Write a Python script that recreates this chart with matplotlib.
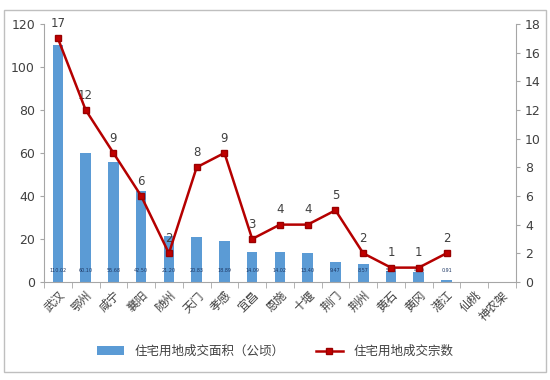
import matplotlib
matplotlib.use("Agg")
import matplotlib.pyplot as plt
import numpy as np

plt.rcParams['font.family'] = ['Noto Sans CJK SC', 'DejaVu Sans']

cities = ['武汉', '鄂州', '咸宁', '襄阳', '随州', '天门', '孝感', '宜昌', '恩施',
          '十堰', '荆门', '荆州', '黄石', '黄冈', '潜江', '仙桃', '神农架']
area = [110.02, 60.10, 55.68, 42.50, 21.20, 20.83, 18.89, 14.09, 14.02,
        13.40, 9.47, 8.57, 5.20, 4.40, 0.91, None, None]
deals = [17, 12, 9, 6, 2, 8, 9, 3, 4, 4, 5, 2, 1, 1, 2, None, None]
area_labels = ['110.02', '60.10', '55.68', '42.50', '21.20', '20.83', '18.89', '14.09',
               '14.02', '13.40', '9.47', '8.57', '5.20', '4.40', '0.91', '', '']

fig = plt.figure(figsize=(5.5, 3.8), dpi=100)
fig.patches.append(plt.Rectangle((0.008, 0.02), 0.985, 0.955, transform=fig.transFigure,
                                 fill=False, edgecolor='#BFBFBF', linewidth=1.0))
ax = fig.add_axes([0.08, 0.258, 0.858, 0.679])
ax2 = ax.twinx()

x = np.arange(len(cities))
bar_vals = [v if v is not None else 0 for v in area]
bars = ax.bar(x, bar_vals, width=0.38, color='#5B9BD5', zorder=2,
              label='住宅用地成交面积（公顷）')
for xi, lab in zip(x, area_labels):
    if lab:
        ax.text(xi, 5.5, lab, ha='center', va='center', fontsize=3.5, color='#1F3864',
                family='DejaVu Sans', zorder=3)

ax.set_xlim(-0.5, len(cities) - 0.5)
ax.set_ylim(0, 120)
ax.set_yticks(np.arange(0, 121, 20))
ax2.set_ylim(0, 18)
ax2.set_yticks(np.arange(0, 19, 2))

lx = [xi for xi, d in zip(x, deals) if d is not None]
ly = [d for d in deals if d is not None]
line, = ax2.plot(lx, ly, color='#B50000', linewidth=1.8, marker='s', markersize=5,
                 markerfacecolor='#C00000', markeredgecolor='#9A0000', zorder=4,
                 label='住宅用地成交宗数')
for xi, d in zip(lx, ly):
    ax2.annotate(str(d), (xi, d), textcoords='offset points', xytext=(0, 6),
                 ha='center', va='bottom', fontsize=8.5, color='#404040',
                 family='DejaVu Sans')

for a in (ax, ax2):
    a.spines['top'].set_visible(False)
    a.tick_params(axis='y', labelsize=9, colors='#404040', length=3, color='#A6A6A6')
    for t in a.get_yticklabels():
        t.set_family('DejaVu Sans')
ax2.spines['left'].set_visible(False)
ax.spines['right'].set_visible(False)
ax2.spines['right'].set_color('#A6A6A6')
ax.spines['left'].set_color('#A6A6A6')
ax.spines['bottom'].set_color('#A6A6A6')
ax2.spines['bottom'].set_visible(False)

ax.set_xticks(x)
ax.set_xticklabels(cities, rotation=45, ha='right', rotation_mode='anchor',
                   fontsize=8.5, color='#404040')
ax.tick_params(axis='x', length=0, pad=5)
ax.set_xticks(np.arange(-0.5, len(cities), 1), minor=True)
ax.tick_params(axis='x', which='minor', length=4, color='#A6A6A6')

fig.legend(handles=[bars, line], labels=['住宅用地成交面积（公顷）', '住宅用地成交宗数'],
           loc='center', bbox_to_anchor=(0.5, 0.075), ncol=2, frameon=False,
           fontsize=9, handlelength=2.2, columnspacing=2.5, labelcolor='#404040')

fig.savefig('out.png', dpi=100)
